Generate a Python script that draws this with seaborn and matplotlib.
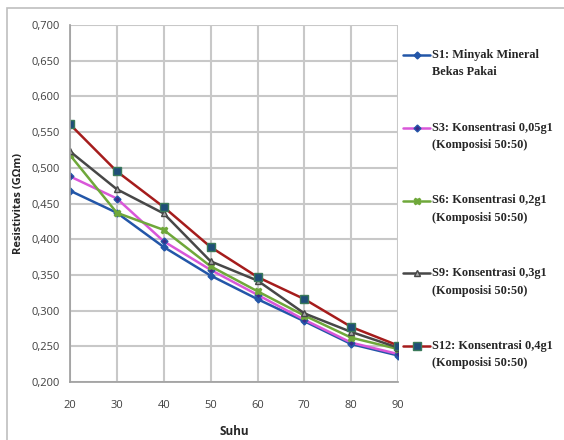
import matplotlib
matplotlib.use("Agg")
import matplotlib.pyplot as plt
import seaborn as sns
import pandas as pd
from matplotlib.patches import Rectangle
from matplotlib.ticker import FuncFormatter
from matplotlib.legend_handler import HandlerLine2D

suhu = [20, 30, 40, 50, 60, 70, 80, 90]
s1 = [0.468, 0.437, 0.389, 0.349, 0.316, 0.285, 0.253, 0.237]
s3 = [0.488, 0.457, 0.397, 0.357, 0.322, 0.287, 0.255, 0.239]
s6 = [0.518, 0.437, 0.413, 0.362, 0.327, 0.293, 0.262, 0.246]
s9 = [0.523, 0.470, 0.436, 0.369, 0.342, 0.296, 0.270, 0.248]
s12 = [0.561, 0.495, 0.445, 0.389, 0.347, 0.316, 0.277, 0.251]
labels = [
    "S1: Minyak Mineral\nBekas Pakai",
    "S3: Konsentrasi 0,05g1\n(Komposisi 50:50)",
    "S6: Konsentrasi 0,2g1\n(Komposisi 50:50)",
    "S9: Konsentrasi 0,3g1\n(Komposisi 50:50)",
    "S12: Konsentrasi 0,4g1\n(Komposisi 50:50)",
]
yticks = [0.200, 0.250, 0.300, 0.350, 0.400, 0.450, 0.500, 0.550, 0.600, 0.650, 0.700]

sns.set_theme(style="white")
plt.rcParams['font.family'] = ['Open Sans', 'DejaVu Sans']

rows = []
for lab, vals in zip(labels, [s1, s3, s6, s9, s12]):
    for x, v in zip(suhu, vals):
        rows.append({"Suhu": x, "Resistivitas": v, "Seri": lab})
df = pd.DataFrame(rows)

colors = ["#2356A8", "#D957D9", "#6FA83A", "#474747", "#A51C1C"]
markers = ["D", "D", "X", "^", "s"]
mfc = ["#2356A8", "#3A2A8A", "#6FA83A", "#A8A8A8", "#1F4E79"]
mec = ["#2356A8", "#2356A8", "#6FA83A", "#474747", "#3A7A5A"]
msize = [3.5, 3.5, 4.5, 4.5, 5.5]


class TopLineHandler(HandlerLine2D):
    shift = 6.3

    def create_artists(self, legend, orig_handle, xdescent, ydescent, width, height,
                       fontsize, trans):
        arts = super().create_artists(legend, orig_handle, xdescent, ydescent, width,
                                      height, fontsize, trans)
        for a in arts:
            a.set_ydata([v + self.shift for v in a.get_ydata()])
        return arts


fig = plt.figure(figsize=(5.64, 4.40), dpi=100)
ax = fig.add_axes([0.124, 0.132, 0.582, 0.811])

for i, lab in enumerate(labels):
    sub = df[df["Seri"] == lab]
    sns.lineplot(data=sub, x="Suhu", y="Resistivitas", ax=ax, color=colors[i],
                 marker=markers[i], markersize=msize[i], markerfacecolor=mfc[i],
                 markeredgecolor=mec[i], markeredgewidth=1, linewidth=1.8, label=lab)

ax.set_xlim(20, 90)
ax.set_ylim(0.2, 0.7)
ax.set_xticks(suhu)
ax.set_yticks(yticks)
ax.yaxis.set_major_formatter(FuncFormatter(lambda v, p: f"{v:.3f}".replace(".", ",")))
ax.grid(True, color="#C8C8C8", linewidth=1.5)
for s in ax.spines.values():
    s.set_visible(False)
ax.spines["left"].set_visible(True)
ax.spines["bottom"].set_visible(True)
ax.spines["left"].set_color("#A0A0A0")
ax.spines["bottom"].set_color("#A0A0A0")
ax.tick_params(axis="both", labelsize=8, colors="#404040", length=0)
ax.tick_params(axis="x", pad=13)
ax.tick_params(axis="y", pad=7)
ax.set_xlabel("Suhu", fontsize=8.5, fontweight="bold", labelpad=10)
ax.set_ylabel("Resistivitas (GΩm)", fontsize=8, fontweight="bold", labelpad=6)

handles, labs = ax.get_legend_handles_labels()
leg = ax.legend(handles, labs, loc="upper left", bbox_to_anchor=(1.0, 0.947), frameon=False,
                prop={"family": "Liberation Serif", "weight": "bold", "size": 8.8},
                labelspacing=3.55, handlelength=2.2, handletextpad=0.15, borderaxespad=0.0,
                handler_map={h: TopLineHandler() for h in handles})
for t in leg.get_texts():
    t.set_linespacing(1.6)

fig.add_artist(Rectangle((7 / 564, -0.1), 2.0, 1.1 - 8 / 440, transform=fig.transFigure,
                         fill=False, edgecolor="#BFBFBF", linewidth=1.2))

fig.savefig("out.png", dpi=100)
